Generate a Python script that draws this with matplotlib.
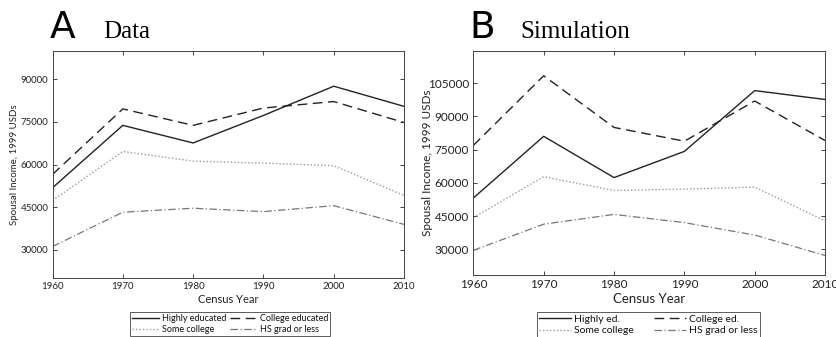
import numpy as np
import matplotlib
matplotlib.use("Agg")
import matplotlib.pyplot as plt

plt.rcParams['font.family'] = ['Lato', 'DejaVu Sans']

years = [1960, 1970, 1980, 1990, 2000, 2010]

# panel A - data
data_high = [51800, 73800, 67600, 77300, 87600, 80500]
data_coll = [56500, 79600, 73800, 79900, 82200, 74800]
data_some = [47300, 64600, 61200, 60500, 59600, 49100]
data_hs = [31100, 43200, 44600, 43400, 45500, 38900]

# panel B - simulation
sim_high = [53200, 81000, 62400, 74200, 101600, 97600]
sim_coll = [76900, 108300, 85000, 78800, 96900, 79100]
sim_some = [44300, 62800, 56600, 57200, 58100, 42900]
sim_hs = [29600, 41400, 45800, 42100, 36500, 27300]

labels_a = ["Highly educated", "College educated", "Some college", "HS grad or less"]
labels_b = ["Highly ed.", "College ed.", "Some college", "HS grad or less"]

styles = [dict(color='#222222', ls='-', lw=1.0),
          dict(color='#222222', ls=(0, (7, 4)), lw=1.0),
          dict(color='#9a9a9a', ls=(0, (1, 1.5)), lw=1.0),
          dict(color='#777777', ls=(0, (6, 2, 1, 2)), lw=0.9)]

fig = plt.figure(figsize=(8.36, 3.37), dpi=100)

def panel(rect, series, labels, ylim, yticks, letter, title, lx, tx, ylx, legx, fs, legfs, colsp):
    ax = fig.add_axes(rect)
    hs = []
    for s, lab, st in zip(series, labels, styles):
        h, = ax.plot(years, s, label=lab, **st)
        hs.append(h)
    ax.set_xlim(1960, 2010)
    ax.set_ylim(*ylim)
    ax.set_xticks(years)
    ax.set_yticks(yticks)
    ax.tick_params(direction='in', top=True, right=True, labelsize=fs, length=3, width=0.6, colors='#222222', pad=3)
    for sp in ax.spines.values():
        sp.set_linewidth(0.7)
        sp.set_color('#444444')
    ax.set_xlabel("Census Year", fontsize=fs + 1, color='#222222', labelpad=2)
    ax.set_ylabel("Spousal Income, 1999 USDs", fontsize=fs, color='#222222')
    ax.yaxis.set_label_coords(ylx, 0.5)
    fig.text(lx, 0.887, letter, fontsize=27, family='DejaVu Sans', ha='left', va='baseline')
    fig.text(tx, 0.887, title, fontsize=18, family='Liberation Serif', ha='left', va='baseline')
    # matplotlib fills legend columns first, so reorder to get rows High/College, Some/HS
    order = [0, 2, 1, 3]
    leg = fig.legend(handles=[hs[i] for i in order], ncol=2, loc='upper left',
                     bbox_to_anchor=(legx, 0.0742),
                     fontsize=legfs, frameon=True, fancybox=False, edgecolor='#333333',
                     borderpad=0.25, borderaxespad=0, handlelength=3.0, handletextpad=0.3,
                     columnspacing=colsp, labelspacing=0.2)
    leg.get_frame().set_linewidth(0.7)
    for t in leg.get_texts():
        t.set_color('#111111')
    return ax

panel([0.0628, 0.175, 0.4205, 0.6736], [data_high, data_coll, data_some, data_hs], labels_a,
      (20000, 100000), [30000, 45000, 60000, 75000, 90000], "A", "Data",
      0.060, 0.124, -0.095, 0.1555, 7, 6.5, 0.4)
panel([0.5662, 0.184, 0.4207, 0.665], [sim_high, sim_coll, sim_some, sim_hs], labels_b,
      (18500, 119500), [30000, 45000, 60000, 75000, 90000, 105000], "B", "Simulation",
      0.562, 0.623, -0.115, 0.642, 8.5, 7.5, 2.0)

fig.savefig("out.png", dpi=100)
